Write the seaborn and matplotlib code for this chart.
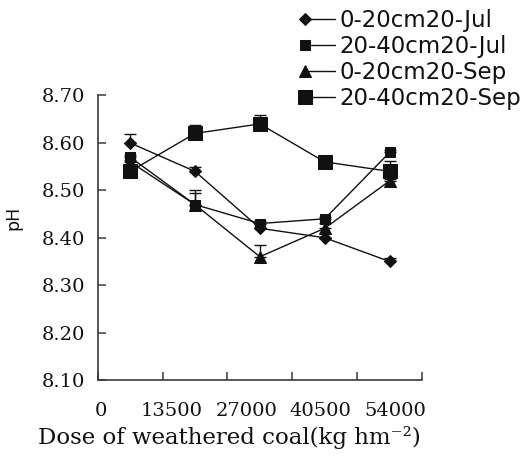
import numpy as np
import pandas as pd
import matplotlib
matplotlib.use("Agg")
import matplotlib.pyplot as plt
import seaborn as sns
from matplotlib.legend_handler import HandlerLine2D

# ---- data ----
dose_labels = ["0", "13500", "27000", "40500", "54000"]
series_names = ["0-20cm20-Jul", "20-40cm20-Jul", "0-20cm20-Sep", "20-40cm20-Sep"]
ph_jul_0_20 = [8.60, 8.54, 8.42, 8.40, 8.35]
ph_jul_20_40 = [8.57, 8.47, 8.43, 8.44, 8.58]
ph_sep_0_20 = [8.56, 8.47, 8.36, 8.42, 8.52]
ph_sep_20_40 = [8.54, 8.62, 8.64, 8.56, 8.54]
err_jul_0_20 = [0.018, 0.010, 0.000, 0.000, 0.008]
err_jul_20_40 = [0.005, 0.030, 0.006, 0.004, 0.004]
err_sep_0_20 = [0.004, 0.025, 0.025, 0.012, 0.004]
err_sep_20_40 = [0.004, 0.018, 0.018, 0.000, 0.022]
y_ticks = [8.10, 8.20, 8.30, 8.40, 8.50, 8.60, 8.70]

sns.set_style("ticks")
plt.rcParams["font.family"] = ["DejaVu Sans"]

INK = "#111111"
fig, ax = plt.subplots(figsize=(5.21, 4.59), dpi=100)
fig.subplots_adjust(left=0.1875, right=0.810, bottom=0.172, top=0.792)

x_pos = np.arange(len(dose_labels))
values = [ph_jul_0_20, ph_jul_20_40, ph_sep_0_20, ph_sep_20_40]
errors = [err_jul_0_20, err_jul_20_40, err_sep_0_20, err_sep_20_40]
marker_style = [("D", 6.2), ("s", 6.5), ("^", 9.0), ("s", 10.0)]

for name, vals, errs, (mk, ms) in zip(series_names, values, errors, marker_style):
    ax.errorbar(x_pos, vals, yerr=[np.zeros(len(errs)), errs], fmt="none",
                ecolor=INK, elinewidth=1.0, capsize=4.3, capthick=1.0,
                zorder=2, label="_nolegend_")
    df = pd.DataFrame({"dose": x_pos, "pH": vals})
    sns.lineplot(data=df, x="dose", y="pH", ax=ax, color=INK, linewidth=1.0,
                 marker=mk, markersize=ms, markeredgecolor=INK,
                 markerfacecolor=INK, label=name, zorder=3)

# axes
ax.set_xlim(-0.5, len(dose_labels) - 0.5)
ax.set_ylim(8.10, 8.70)
ax.set_xticks(np.arange(-0.5, len(dose_labels)), labels=[""] * (len(dose_labels) + 1))
label_pos = [-0.45, 0.64, 1.79, 2.94, 4.09]
ax.set_xticks(label_pos, labels=dose_labels, minor=True)
ax.set_yticks(y_ticks, labels=[f"{v:.2f}" for v in y_ticks])

serif = ["DejaVu Serif"]
for t in ax.get_xticklabels(minor=True) + ax.get_yticklabels():
    t.set_family(serif)
    t.set_fontsize(14)
ax.tick_params(axis="x", which="major", direction="in", length=5.5, width=1.1,
               color="#3a3a3a")
ax.tick_params(axis="x", which="minor", length=0, pad=16, colors="#111111")
ax.tick_params(axis="y", direction="in", length=5.5, width=1.1, color="#3a3a3a",
               pad=9, labelcolor="#111111")

for s in ["top", "right"]:
    ax.spines[s].set_visible(False)
for s in ["left", "bottom"]:
    ax.spines[s].set_color("#3a3a3a")
    ax.spines[s].set_linewidth(1.2)

ax.set_xlabel("Dose of weathered coal(kg hm\u207b\u00b2)", family=serif,
              fontsize=16.5, color="#111111")
ax.xaxis.set_label_coords(0.405, -0.16)
ax.set_ylabel("pH", fontsize=12.5, color="#111111")
ax.yaxis.set_label_coords(-0.232, 0.571)


class LeftMarkerHandler(HandlerLine2D):
    def create_artists(self, legend, orig_handle, xdescent, ydescent, width,
                       height, fontsize, trans):
        arts = super().create_artists(legend, orig_handle, xdescent, ydescent,
                                      width, height, fontsize, trans)
        for a in arts:
            if a.get_markevery() is not None:
                a.set_markevery([0])
        return arts


handles, labels = ax.get_legend_handles_labels()
leg = ax.legend(handles, labels, loc="upper left",
                bbox_to_anchor=(305 / 521, 1 - 9 / 459),
                bbox_transform=fig.transFigure, frameon=False, fontsize=16.5,
                borderpad=0, borderaxespad=0, handlelength=1.3,
                handletextpad=0.2, labelspacing=0.13, numpoints=1,
                handler_map={type(h): LeftMarkerHandler() for h in handles})
for t in leg.get_texts():
    t.set_color("#111111")

fig.savefig("out.png", dpi=100)
